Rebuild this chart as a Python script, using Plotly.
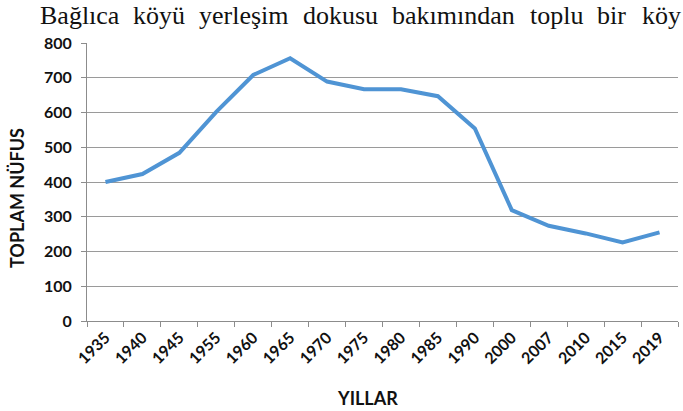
import plotly.graph_objects as go

years = ["1935", "1940", "1945", "1955", "1960", "1965", "1970", "1975",
         "1980", "1985", "1990", "2000", "2007", "2010", "2015", "2019"]
population = [400, 423, 484, 602, 708, 756, 689, 667,
              667, 647, 554, 319, 274, 252, 226, 255]
y_ticks = [0, 100, 200, 300, 400, 500, 600, 700, 800]

header_words = ["Bağlıca", "köyü", "yerleşim", "dokusu", "bakımından", "toplu", "bir", "köy"]
header_x = [38, 131, 197, 301, 390, 528, 595, 640]

L, R, T, B = 87, 5, 43, 90
W, H = 683, 411
PW, PH = W - L - R, H - T - B

fig = go.Figure()
fig.add_trace(go.Scatter(
    x=years, y=population, mode="lines",
    line=dict(color="#4f94d4", width=4),
    showlegend=False, hoverinfo="skip",
))

tick_font = dict(family="Lato, Arial, sans-serif", size=16, color="#111111", weight="bold")

fig.update_layout(
    width=W, height=H,
    margin=dict(l=L, r=R, t=T, b=B, autoexpand=False),
    paper_bgcolor="white", plot_bgcolor="white",
    xaxis=dict(
        type="category", range=[-0.5, len(years) - 0.5],
        tickangle=-45, tickfont=dict(tick_font, size=16), automargin=False,
        showline=True, linecolor="#8c8c8c", linewidth=1,
        ticks="outside", tickson="boundaries", ticklen=5, tickcolor="#8c8c8c",
        showgrid=False, zeroline=False, fixedrange=True,
    ),
    yaxis=dict(
        range=[0, 800], tickvals=y_ticks, tickfont=tick_font, automargin=False,
        showline=True, linecolor="#8c8c8c", linewidth=1,
        ticks="outside", ticklen=5, tickcolor="#8c8c8c", ticklabelstandoff=6,
        showgrid=True, gridcolor="#9a9a9a", gridwidth=1,
        zeroline=False, fixedrange=True,
    ),
)

annotations = []
for w, x in zip(header_words, header_x):
    annotations.append(dict(
        text=w, xref="paper", yref="paper",
        x=(x - L) / PW, y=1 + (T - 16) / PH,
        xanchor="left", yanchor="middle", showarrow=False,
        font=dict(family="Liberation Serif, Times New Roman, serif", size=26, color="#111111"),
    ))
annotations.append(dict(
    text="<b>TOPLAM NÜFUS</b>", xref="paper", yref="paper",
    x=(17 - L) / PW, y=(H - B - 198) / PH,
    xanchor="center", yanchor="middle", textangle=-90, showarrow=False,
    font=dict(family="Lato, Arial, sans-serif", size=18, color="#111111"),
))
annotations.append(dict(
    text="<b>YILLAR</b>", xref="paper", yref="paper",
    x=(367 - L) / PW, y=-(398 - (H - B)) / PH,
    xanchor="center", yanchor="middle", showarrow=False,
    font=dict(family="Lato, Arial, sans-serif", size=18, color="#111111"),
))
fig.update_layout(annotations=annotations)

fig.write_html(
    "out.html",
    config={"displayModeBar": False},
    post_script="document.body.style.margin='0';document.body.style.overflow='hidden';",
)
